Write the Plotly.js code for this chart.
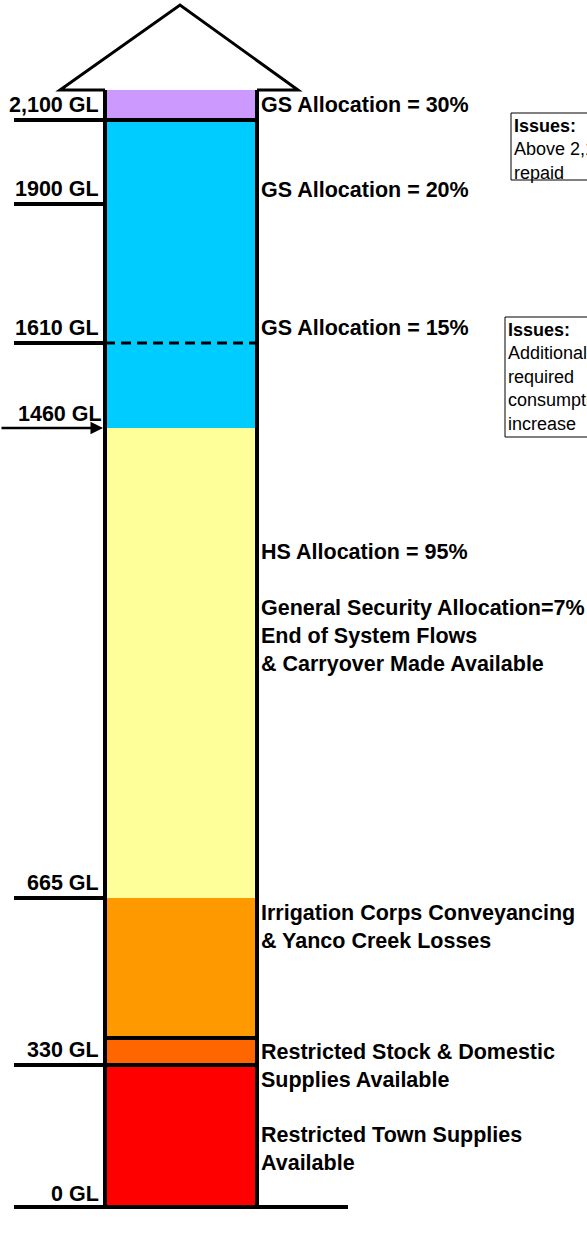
<!DOCTYPE html>
<html>
<head>
<meta charset="utf-8">
<script src="https://cdn.plot.ly/plotly-3.0.1.min.js"></script>
<style>
  html, body { margin: 0; padding: 0; background: #ffffff; }
  #chart { width: 587px; height: 1233px; }
</style>
</head>
<body>
<div id="chart"></div>
<script>
// ---- Data (schematic, not to scale: band heights) ----
const bandNames = [
  "Restricted Town Supplies",
  "Restricted Stock & Domestic",
  "Irrigation Corps Conveyancing & Yanco Creek Losses",
  "HS 95% / GS 7%",
  "GS 15% - 20%",
  "GS 30%"
];
const bandHeights = [142, 27, 140, 470, 308, 30];
const bandColors = ["#FF0000", "#FF6600", "#FF9900", "#FFFF99", "#00CCFF", "#CC99FF"];

const levelLabels = ["0 GL", "330 GL", "665 GL", "1460 GL", "1610 GL", "1900 GL", "2,100 GL"];
const levelValues = [0, 142, 309, 779, 864, 1003, 1087];

const rightLabels = [
  "GS Allocation = 30%",
  "GS Allocation = 20%",
  "GS Allocation = 15%",
  "HS Allocation = 95%",
  "General Security Allocation=7%<br>End of System Flows<br>& Carryover Made Available",
  "Irrigation Corps Conveyancing<br>& Yanco Creek Losses",
  "Restricted Stock & Domestic<br>Supplies Available",
  "Restricted Town Supplies<br>Available"
];
const rightLabelValues = [1102, 1017, 879, 655, 571, 280, 141, 58];

const issueBox1 = ["<b>Issues:</b>", "Above 2,100 GL", "repaid"];
const issueBox2 = ["<b>Issues:</b>", "Additional", "required", "consumption", "increase"];

// ---- Layout constants ----
const W = 587, H = 1233;
const Y0 = 1207; // pixel row of the 0 GL line
const barX = 181, barW = 152;
const barL = barX - barW / 2, barR = barX + barW / 2;
const tickStart = 14;
const FONT = "Arial, 'Liberation Sans', sans-serif";
const FS = 21.5;

// cumulative bases
const bases = [];
let acc = 0;
for (let i = 0; i < bandHeights.length; i++) { bases.push(acc); acc += bandHeights[i]; }
const barTop = acc;

const traces = bandNames.map((n, i) => ({
  type: "bar",
  name: n,
  x: [barX],
  y: [bandHeights[i]],
  width: [barW],
  marker: { color: bandColors[i], line: { width: 0 } },
  hoverinfo: "skip",
  showlegend: false
}));

const shapes = [];
const blk = "#000000";
function hline(x0, x1, y, w, dash) {
  shapes.push({ type: "line", xref: "x", yref: "y", x0, x1, y0: y, y1: y,
    line: { color: blk, width: w, dash: dash || "solid" } });
}
// bar side borders
shapes.push({ type: "line", xref: "x", yref: "y", x0: barL, x1: barL, y0: 0, y1: barTop, line: { color: blk, width: 4 } });
shapes.push({ type: "line", xref: "x", yref: "y", x0: barR, x1: barR, y0: 0, y1: barTop, line: { color: blk, width: 4 } });
// arrow head on top
shapes.push({ type: "path", xref: "x", yref: "y",
  path: `M ${barL} ${barTop} L 60 ${barTop} L ${barX - 1} ${barTop + 85} L 298 ${barTop} L ${barR} ${barTop}`,
  line: { color: blk, width: 3 } });
// bottom line
hline(tickStart, 348, levelValues[0], 4);
// 330 GL line across bar
hline(tickStart, barR, levelValues[1], 4);
// line between restricted S&D band and conveyancing band
hline(barL, barR, bases[2], 4);
// 665 GL
hline(tickStart, barL, levelValues[2], 4);
// 1610 GL
hline(tickStart, barL, levelValues[4], 4);
hline(barL, barR, levelValues[4], 3, "10px,6px");
// 1900 GL
hline(tickStart, barL, levelValues[5], 4);
// 2100 GL across bar
hline(tickStart, barR, levelValues[6], 4);

// issue boxes
shapes.push({ type: "rect", xref: "x", yref: "y", x0: 511, x1: 640, y0: Y0 - 180, y1: Y0 - 113,
  line: { color: blk, width: 1 }, fillcolor: "rgba(0,0,0,0)" });
shapes.push({ type: "rect", xref: "x", yref: "y", x0: 505, x1: 640, y0: Y0 - 437, y1: Y0 - 317,
  line: { color: blk, width: 1 }, fillcolor: "rgba(0,0,0,0)" });

const annotations = [];
levelLabels.forEach((t, i) => {
  if (i === 3) return;
  annotations.push({ x: 101, y: levelValues[i], xref: "x", yref: "y", text: "<b>" + t + "</b>",
    showarrow: false, xanchor: "right", yanchor: "middle", yshift: i === 0 ? 13 : 15,
    font: { family: FONT, size: FS, color: "#000" } });
});
// 1460 arrow
annotations.push({ x: barL - 2, y: levelValues[3], ax: 0, ay: levelValues[3], axref: "x", ayref: "y",
  xref: "x", yref: "y", text: "", showarrow: true, arrowhead: 2, arrowsize: 1, arrowwidth: 2.5, arrowcolor: blk });
annotations.push({ x: 104, y: levelValues[3], xref: "x", yref: "y", text: "<b>" + levelLabels[3] + "</b>",
  showarrow: false, xanchor: "right", yanchor: "middle", yshift: 14,
  font: { family: FONT, size: FS, color: "#000" } });

rightLabels.forEach((t, i) => {
  annotations.push({ x: 259, y: rightLabelValues[i], xref: "x", yref: "y", text: "<b>" + t + "</b>",
    showarrow: false, xanchor: "left", yanchor: "middle", align: "left",
    font: { family: FONT, size: FS, color: "#000" } });
});

annotations.push({ x: 513, y: Y0 - 115, xref: "x", yref: "y", text: issueBox1.join("<br>"),
  showarrow: false, xanchor: "left", yanchor: "top", align: "left", borderpad: 0,
  font: { family: FONT, size: 18, color: "#000" } });
annotations.push({ x: 507, y: Y0 - 319, xref: "x", yref: "y", text: issueBox2.join("<br>"),
  showarrow: false, xanchor: "left", yanchor: "top", align: "left", borderpad: 0,
  font: { family: FONT, size: 18, color: "#000" } });

const layout = {
  width: W, height: H,
  margin: { l: 0, r: 0, t: 0, b: 0, pad: 0 },
  paper_bgcolor: "#ffffff", plot_bgcolor: "#ffffff",
  barmode: "stack", bargap: 0,
  xaxis: { range: [0, W], visible: false, fixedrange: true },
  yaxis: { range: [-26, 1207], visible: false, fixedrange: true },
  shapes, annotations,
  showlegend: false
};

Plotly.newPlot("chart", traces, layout, { staticPlot: true, displayModeBar: false });
</script>
</body>
</html>
